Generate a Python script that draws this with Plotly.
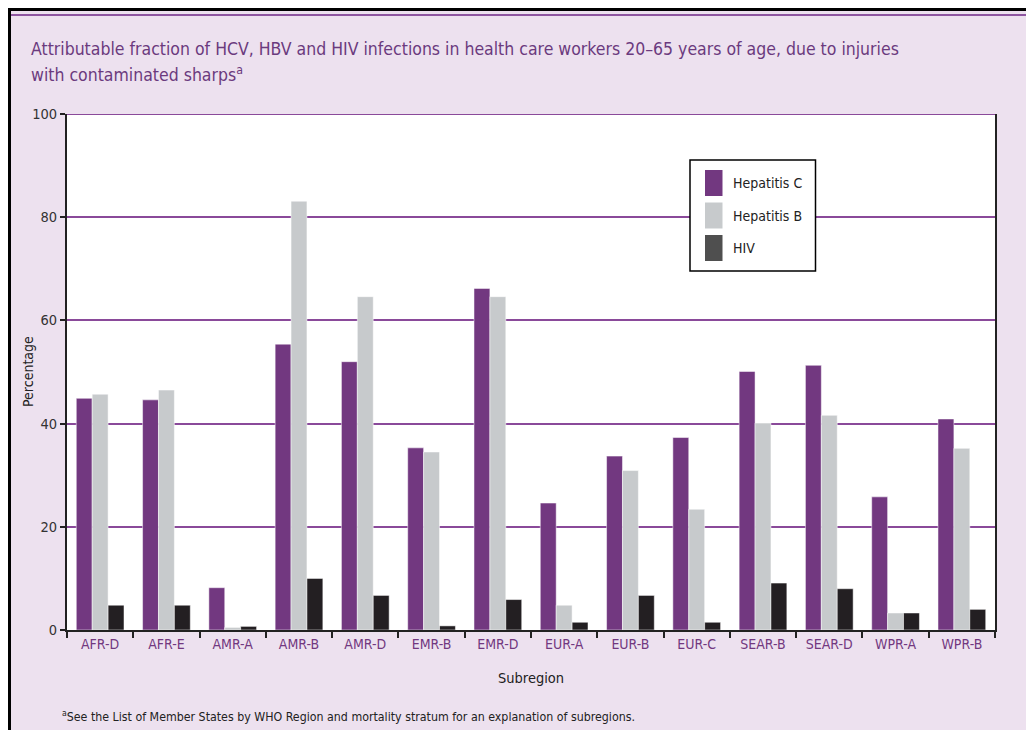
import plotly.graph_objects as go

categories = ["AFR-D", "AFR-E", "AMR-A", "AMR-B", "AMR-D", "EMR-B", "EMR-D",
              "EUR-A", "EUR-B", "EUR-C", "SEAR-B", "SEAR-D", "WPR-A", "WPR-B"]
series_names = ["Hepatitis C", "Hepatitis B", "HIV"]
hep_c = [44.9, 44.6, 8.2, 55.4, 52.0, 35.3, 66.2, 24.6, 33.7, 37.3, 50.1, 51.3, 25.8, 40.9]
hep_b = [45.7, 46.5, 0.5, 83.1, 64.6, 34.5, 64.6, 4.8, 30.9, 23.4, 40.1, 41.6, 3.3, 35.2]
hiv = [4.8, 4.8, 0.7, 10.0, 6.7, 0.8, 5.9, 1.5, 6.7, 1.5, 9.1, 8.0, 3.3, 4.0]
y_ticks = [0, 20, 40, 60, 80, 100]

# screen geometry (page has an 8px body margin)
OFF = 8
W, H = 1034 - 2 * OFF, 738 - 2 * OFF
L, R, T, B = 67, 995, 114, 630          # plot area in screen pixels
FONT = "DejaVu Sans Condensed, Liberation Sans Narrow, sans-serif"
PURPLE = "#723880"
LAV = "#ede1ef"
bar_colors = [PURPLE, "#c7cacc", "#231f22"]
legend_colors = [PURPLE, "#c7cacc", "#4f4f4f"]


def px(x):
    return (x - L) / (R - L)


def py(y):
    return (B - y) / (B - T)


fig = go.Figure()
for name, vals, col in zip(series_names, [hep_c, hep_b, hiv], bar_colors):
    fig.add_bar(x=categories, y=vals, name=name,
                marker=dict(color=col, line=dict(color="white", width=0.5)))

shapes = [
    dict(type="rect", xref="paper", yref="paper", layer="below",
         x0=px(10), x1=px(1040), y0=py(10), y1=py(745),
         fillcolor=LAV, line=dict(width=0)),
    dict(type="line", xref="paper", yref="paper", x0=px(8), x1=px(1040),
         y0=py(9.5), y1=py(9.5), line=dict(color="black", width=3)),
    dict(type="line", xref="paper", yref="paper", x0=px(9.5), x1=px(9.5),
         y0=py(8), y1=py(745), line=dict(color="black", width=3)),
    dict(type="line", xref="paper", yref="paper", x0=px(11), x1=px(1040),
         y0=py(15), y1=py(15), line=dict(color="#8e55a0", width=2)),
    dict(type="rect", xref="paper", yref="paper", layer="below",
         x0=0, x1=1, y0=0, y1=1, fillcolor="white", line=dict(width=0)),
    dict(type="line", xref="paper", yref="y", x0=0, x1=1, y0=100, y1=100,
         line=dict(color="#8a4a9a", width=2)),
    # legend box
    dict(type="rect", xref="paper", yref="paper", layer="above",
         x0=px(690), x1=px(815.5), y0=py(160), y1=py(271),
         fillcolor="white", line=dict(color="black", width=1.5)),
]

annotations = [
    dict(text="Attributable fraction of HCV, HBV and HIV infections in health care workers 20–65 years of age, due to injuries",
         xref="paper", yref="paper", x=px(29), y=py(49), xanchor="left", yanchor="middle",
         showarrow=False, font=dict(family=FONT, size=17.5, color="#6b3a7e")),
    dict(text="with contaminated sharps<sup>a</sup>",
         xref="paper", yref="paper", x=px(29), y=py(74), xanchor="left", yanchor="middle",
         showarrow=False, font=dict(family=FONT, size=17.5, color="#6b3a7e")),
    dict(text="Percentage", xref="paper", yref="paper", x=px(28), y=py(372),
         textangle=-90, showarrow=False, xanchor="center", yanchor="middle",
         font=dict(family=FONT, size=14, color="#222")),
    dict(text="Subregion", xref="paper", yref="paper", x=px(531), y=py(678),
         showarrow=False, xanchor="center", yanchor="middle",
         font=dict(family=FONT, size=14.5, color="#222")),
    dict(text="<sup>a</sup>See the List of Member States by WHO Region and mortality stratum for an explanation of subregions.",
         xref="paper", yref="paper", x=px(60), y=py(716),
         showarrow=False, xanchor="left", yanchor="middle",
         font=dict(family=FONT, size=12.3, color="#222")),
]

# legend entries
sw_top = [170, 202.5, 235]
for name, col, top in zip(series_names, legend_colors, sw_top):
    shapes.append(dict(type="rect", xref="paper", yref="paper", layer="above",
                       x0=px(705), x1=px(722.5), y0=py(top), y1=py(top + 26),
                       fillcolor=col, line=dict(width=0)))
    annotations.append(dict(text=name, xref="paper", yref="paper",
                            x=px(731), y=py(top + 13), xanchor="left", yanchor="middle",
                            showarrow=False,
                            font=dict(family=FONT, size=14, color="#222")))

fig.update_layout(
    width=W, height=H,
    margin=dict(l=L - OFF, r=W - (R - OFF), t=T - OFF, b=H - (B - OFF), pad=0),
    paper_bgcolor="white", plot_bgcolor="rgba(0,0,0,0)",
    barmode="group", bargap=0.28, bargroupgap=0,
    showlegend=False,
    shapes=shapes, annotations=annotations,
    font=dict(family=FONT),
)
fig.update_xaxes(showline=True, linecolor="#222", linewidth=2,
                 ticks="outside", tickson="boundaries", ticklen=6, tickwidth=2, tickcolor="#222",
                 tickfont=dict(family=FONT, size=14, color=PURPLE),
                 showgrid=False)
fig.update_yaxes(range=[0, 100], tickvals=y_ticks, showline=True, linecolor="#222", linewidth=2,
                 mirror=True, ticks="outside", ticklen=5, tickwidth=1.5, tickcolor="#222",
                 tickfont=dict(family=FONT, size=14.5, color="#333"),
                 showgrid=True, gridcolor="#8a4a9a", gridwidth=2, zeroline=False)

fig.write_html("out.html")
